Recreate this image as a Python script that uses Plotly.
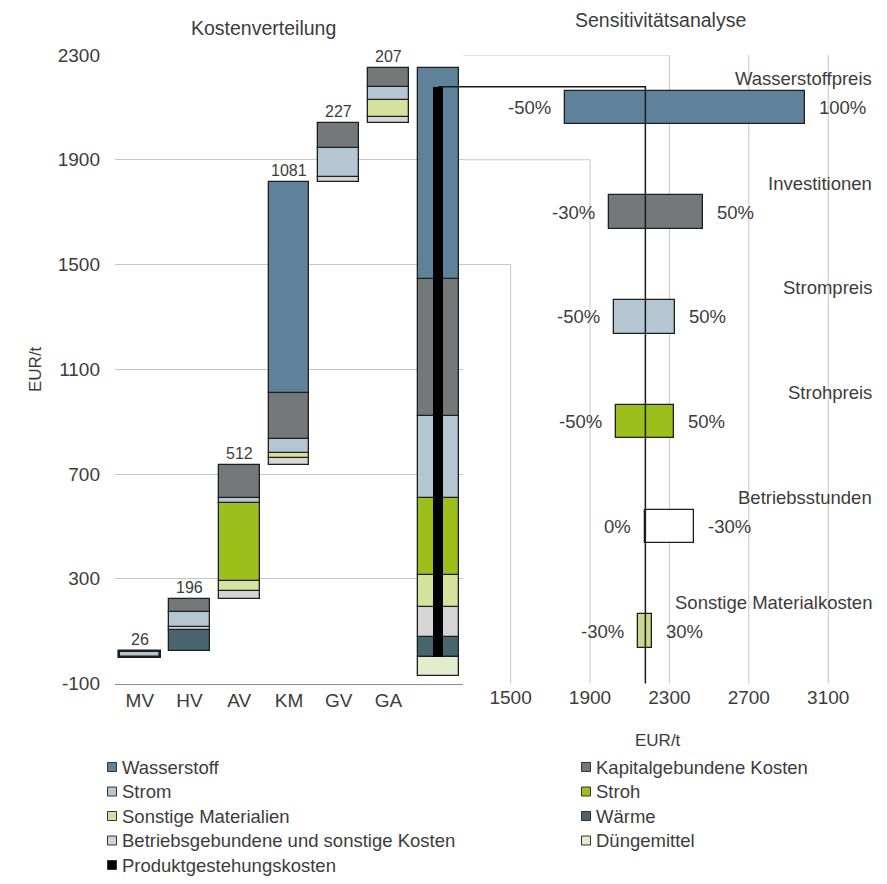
import plotly.graph_objects as go

# ---------------- data ----------------
steps = ["MV", "HV", "AV", "KM", "GV", "GA"]

# cost components per process step (EUR/t), stacked bottom -> top
waerme = [0, 79, 0, 0, 0, 0]
betriebskosten = [0, 12, 33, 27, 19, 21]
sonstige_materialien = [0, 0, 37, 20, 0, 65]
stroh = [0, 0, 297, 0, 0, 0]
strom = [26, 57, 19, 51, 110, 48]
kapitalkosten = [0, 48, 126, 178, 98, 73]
wasserstoff = [0, 0, 0, 805, 0, 0]

# by-product credit shown only in the total column
duengemittel = -70

# sensitivity analysis (EUR/t)
sens_params = ["Wasserstoffpreis", "Investitionen", "Strompreis",
               "Strohpreis", "Betriebsstunden", "Sonstige Materialkosten"]
sens_low = [1775, 1995, 2022, 2030, 2179, 2142]
sens_high = [2985, 2470, 2326, 2325, 2422, 2214]
sens_low_labels = ["-50%", "-30%", "-50%", "-50%", "0%", "-30%"]
sens_high_labels = ["100%", "50%", "50%", "50%", "-30%", "30%"]

left_ticks = [-100, 300, 700, 1100, 1500, 1900, 2300]
right_ticks = [1500, 1900, 2300, 2700, 3100]

# ---------------- styles ----------------
C_WASSERSTOFF = "#60819a"
C_KAPITAL = "#757878"
C_STROM = "#b3c6d2"
C_STROH = "#9dbf1c"
C_SONSTMAT = "#d5e29e"
C_WAERME = "#48656f"
C_BETRIEB = "#d5d5d5"
C_DUENGER = "#e4ecce"
C_PRODUKT = "#000000"
C_SENS = [C_WASSERSTOFF, C_KAPITAL, C_STROM, C_STROH, "#ffffff", "#c8d98f"]
EDGE = "#1e1e1e"
GRID = "#c6c6c6"
TXT = "#3c3c3c"
FONT = "Liberation Sans, Arial, sans-serif"
TICK_SIZE = 19
LABEL_SIZE = 18.5
EDGE_W = 1.3
THIN_EDGE_W = 2.6   # very short bars get a heavier outline

W, H = 887, 884
def px(x):
    return x / W
def py(y):
    return 1 - y / H

# plot areas (pixel frame)
L_X0, L_X1 = 115, 463
P_Y0, P_Y1 = 55, 683.5
Y_DOMAIN = [py(P_Y1), py(P_Y0)]

# right chart x-axis spans the full width; 1500 sits at 510.6 px
X2_ORIGIN_PX, X2_ORIGIN_VAL, X2_PX_PER_UNIT = 510.6, 1500, 0.1985
x2_r0 = X2_ORIGIN_VAL - X2_ORIGIN_PX / X2_PX_PER_UNIT
x2_r1 = X2_ORIGIN_VAL + (W - X2_ORIGIN_PX) / X2_PX_PER_UNIT
def paper_to_x2(p):
    return x2_r0 + p * (x2_r1 - x2_r0)

# ---------------- cost distribution (waterfall) ----------------
stack = [
    ("Wärme", waerme, C_WAERME),
    ("Betriebsgebundene und sonstige Kosten", betriebskosten, C_BETRIEB),
    ("Sonstige Materialien", sonstige_materialien, C_SONSTMAT),
    ("Stroh", stroh, C_STROH),
    ("Strom", strom, C_STROM),
    ("Kapitalgebundene Kosten", kapitalkosten, C_KAPITAL),
    ("Wasserstoff", wasserstoff, C_WASSERSTOFF),
]

n = len(steps)
step_totals = [sum(s[1][i] for s in stack) for i in range(n)]
step_offsets = []
acc = 0
for t in step_totals:
    step_offsets.append(acc)
    acc += t
grand_total = acc
produkt = grand_total + duengemittel
TOTAL_X = n

fig = go.Figure()

running = [0] * n
total_base = 0
for name, vals, color in stack:
    xs, ys, bs, lw = [], [], [], []
    for i, v in enumerate(vals):
        if v:
            xs.append(i)
            ys.append(v)
            bs.append(step_offsets[i] + running[i])
            # a step consisting of a single tiny segment gets a heavier outline
            lw.append(THIN_EDGE_W if v == step_totals[i] and v < 40 else EDGE_W)
            running[i] += v
    cat_total = sum(vals)
    xs.append(TOTAL_X)
    ys.append(cat_total)
    bs.append(total_base)
    lw.append(EDGE_W)
    total_base += cat_total
    fig.add_trace(go.Bar(
        x=xs, y=ys, base=bs, width=0.82, name=name,
        marker=dict(color=color, line=dict(color=EDGE, width=lw)),
        xaxis="x", yaxis="y", showlegend=False, hoverinfo="skip"))

fig.add_trace(go.Bar(
    x=[TOTAL_X], y=[duengemittel], base=[0], width=0.82, name="Düngemittel",
    marker=dict(color=C_DUENGER, line=dict(color=EDGE, width=EDGE_W)),
    xaxis="x", yaxis="y", showlegend=False, hoverinfo="skip"))

fig.add_trace(go.Bar(
    x=[TOTAL_X], y=[produkt], base=[0], width=0.19, name="Produktgestehungskosten",
    marker=dict(color=C_PRODUKT, line=dict(width=0)),
    xaxis="x", yaxis="y", showlegend=False, hoverinfo="skip"))

# ---------------- sensitivity (tornado) ----------------
ypos = list(range(len(sens_params)))
fig.add_trace(go.Bar(
    orientation="h", y=ypos,
    x=[h - l for l, h in zip(sens_low, sens_high)], base=sens_low,
    width=0.32,
    marker=dict(color=C_SENS, line=dict(color=EDGE, width=EDGE_W)),
    xaxis="x2", yaxis="y2", showlegend=False, hoverinfo="skip"))

annotations = []

# step totals above the waterfall bars
for i in range(n):
    annotations.append(dict(
        x=i, y=step_offsets[i] + step_totals[i], xref="x", yref="y",
        text=str(step_totals[i]), showarrow=False, xanchor="center",
        yanchor="bottom", yshift=1, font=dict(size=16, color=TXT)))

# sensitivity labels
for i, p in enumerate(sens_params):
    annotations.append(dict(
        x=px(874), y=i, xref="paper", yref="y2", text=p, showarrow=False,
        xanchor="right", yanchor="middle", yshift=29,
        font=dict(size=LABEL_SIZE, color=TXT)))
    annotations.append(dict(
        x=sens_low[i], y=i, xref="x2", yref="y2", text=sens_low_labels[i],
        showarrow=False, xanchor="right", yanchor="middle", xshift=-12,
        font=dict(size=LABEL_SIZE, color=TXT)))
    annotations.append(dict(
        x=sens_high[i], y=i, xref="x2", yref="y2", text=sens_high_labels[i],
        showarrow=False, xanchor="left", yanchor="middle", xshift=12,
        font=dict(size=LABEL_SIZE, color=TXT)))

# titles and axis titles
annotations += [
    dict(x=px(263), y=py(28), xref="paper", yref="paper", text="Kostenverteilung",
         showarrow=False, xanchor="center", yanchor="middle",
         font=dict(size=19.5, color=TXT)),
    dict(x=px(660), y=py(20), xref="paper", yref="paper", text="Sensitivitätsanalyse",
         showarrow=False, xanchor="center", yanchor="middle",
         font=dict(size=19.5, color=TXT)),
    dict(x=px(35), y=py(369), xref="paper", yref="paper", text="EUR/t",
         textangle=-90, showarrow=False, xanchor="center", yanchor="middle",
         font=dict(size=17, color=TXT)),
    dict(x=px(658), y=py(740), xref="paper", yref="paper", text="EUR/t",
         showarrow=False, xanchor="center", yanchor="middle",
         font=dict(size=17, color=TXT)),
]

# ---------------- legend ----------------
legend_items = [
    ("Wasserstoff", C_WASSERSTOFF), ("Kapitalgebundene Kosten", C_KAPITAL),
    ("Strom", C_STROM), ("Stroh", C_STROH),
    ("Sonstige Materialien", C_SONSTMAT), ("Wärme", C_WAERME),
    ("Betriebsgebundene und sonstige Kosten", C_BETRIEB), ("Düngemittel", C_DUENGER),
    ("Produktgestehungskosten", C_PRODUKT),
]
shapes = []
col_marker = [112, 586]
col_text = [120, 594]
for k, (label, color) in enumerate(legend_items):
    r, c = divmod(k, 2)
    yc = 767 + 24.5 * r
    shapes.append(dict(
        type="rect", xref="paper", yref="paper",
        x0=px(col_marker[c] - 4.5), x1=px(col_marker[c] + 4.5),
        y0=py(yc + 4.5), y1=py(yc - 4.5),
        fillcolor=color, line=dict(color="#333333", width=1)))
    annotations.append(dict(
        x=px(col_text[c]), y=py(yc), xref="paper", yref="paper", text=label,
        showarrow=False, xanchor="left", yanchor="middle",
        font=dict(size=LABEL_SIZE, color=TXT)))

# ---------------- connecting grid lines ----------------
y_bottom = -112
x_left_edge = paper_to_x2(px(L_X1))
for v in right_ticks:
    if v in left_ticks:
        path = f"M {x_left_edge},{v} L {v},{v} L {v},{y_bottom}"
    else:
        path = f"M {v},{left_ticks[-1]} L {v},{y_bottom}"
    shapes.append(dict(type="path", path=path, xref="x2", yref="y",
                       line=dict(color=GRID, width=1), layer="below"))

# product-cost reference line: from the total column to the tornado centre
x_total_center = paper_to_x2(px(L_X0 + (TOTAL_X + 0.5) / (n + 1) * (L_X1 - L_X0)))
shapes.append(dict(
    type="path",
    path=f"M {x_total_center},{produkt} L {produkt},{produkt} L {produkt},{y_bottom}",
    xref="x2", yref="y", line=dict(color="#1a1a1a", width=1.5), layer="above"))

fig.update_layout(
    width=W, height=H, margin=dict(l=0, r=0, t=0, b=0, autoexpand=False),
    paper_bgcolor="white", plot_bgcolor="rgba(0,0,0,0)",
    barmode="overlay", bargap=0,
    font=dict(family=FONT, color=TXT, size=18),
    xaxis=dict(domain=[px(L_X0), px(L_X1)], range=[-0.5, n + 0.5],
               tickvals=list(range(n)), ticktext=steps, showgrid=False,
               zeroline=False, showline=True, linecolor="#8c8c8c", linewidth=1,
               ticks="", tickfont=dict(size=TICK_SIZE, color=TXT), anchor="y",
               automargin=False, fixedrange=True),
    yaxis=dict(domain=Y_DOMAIN, range=[left_ticks[0], left_ticks[-1]],
               tickvals=left_ticks, ticktext=[str(v) for v in left_ticks],
               showgrid=True, gridcolor=GRID, gridwidth=1,
               zeroline=False, showline=False, ticks="", ticklabelstandoff=14,
               tickfont=dict(size=TICK_SIZE, color=TXT), anchor="x",
               automargin=False, fixedrange=True),
    xaxis2=dict(domain=[0, 1], range=[x2_r0, x2_r1], tickvals=right_ticks,
                showgrid=False, zeroline=False, showline=False, ticks="",
                tickfont=dict(size=TICK_SIZE, color=TXT), anchor="y2",
                automargin=False, fixedrange=True),
    yaxis2=dict(domain=Y_DOMAIN, range=[len(sens_params) - 0.5, -0.5],
                showticklabels=False, showgrid=False, zeroline=False,
                showline=False, anchor="x2", automargin=False, fixedrange=True),
    annotations=annotations, shapes=shapes,
)

fig.write_html("out.html")
